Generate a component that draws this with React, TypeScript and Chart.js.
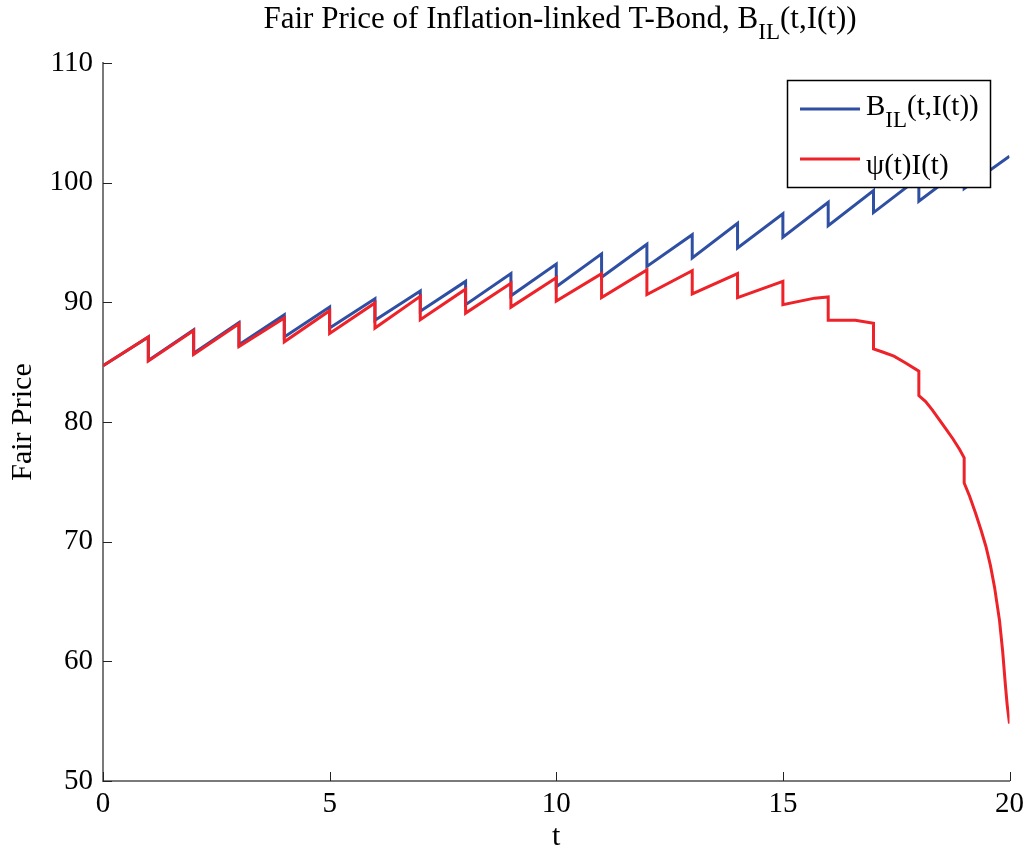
import React, { useEffect, useRef } from "react";
import { Chart, registerables } from "chart.js";
Chart.register(...registerables);

// ---- data ----
const blueT = [0, 1, 1, 2, 2, 3, 3, 4, 4, 5, 5, 6, 6, 7, 7, 8, 8, 9, 9, 10, 10, 11, 11, 12, 12, 13, 13, 14, 14, 15, 15, 16, 16, 17, 17, 18, 18, 19, 19, 20];
const blueY = [84.7, 87.1, 85.15, 87.7, 85.75, 88.3, 86.45, 88.95, 87.1, 89.6, 87.85, 90.3, 88.5, 90.95, 89.25, 91.75, 89.8, 92.4, 90.55, 93.2, 91.3, 94.05, 92.1, 94.85, 93.0, 95.65, 93.7, 96.6, 94.55, 97.4, 95.45, 98.35, 96.4, 99.35, 97.5, 100.4, 98.45, 101.3, 99.5, 102.2];

const redT = [0, 1, 1, 2, 2, 3, 3, 4, 4, 5, 5, 6, 6, 7, 7, 8, 8, 9, 9, 10, 10, 11, 11, 12, 12, 13, 13, 14, 14, 15, 15, 15.7, 16, 16, 16.6, 17, 17, 17.2, 17.45, 17.7, 18, 18, 18.15, 18.3, 18.45, 18.6, 18.75, 18.9, 19, 19, 19.12, 19.25, 19.37, 19.48, 19.58, 19.67, 19.78, 19.85, 19.91, 19.95, 20];
const redY = [84.7, 87.1, 85.1, 87.65, 85.65, 88.2, 86.3, 88.7, 86.7, 89.3, 87.4, 89.95, 87.85, 90.5, 88.55, 91.1, 89.1, 91.6, 89.6, 92.05, 90.1, 92.4, 90.4, 92.7, 90.65, 92.65, 90.7, 92.4, 90.4, 91.75, 89.8, 90.35, 90.45, 88.5, 88.5, 88.25, 86.1, 85.85, 85.5, 84.95, 84.25, 82.2, 81.7, 81.0, 80.2, 79.4, 78.6, 77.7, 77.0, 74.9, 73.8, 72.4, 71.0, 69.6, 68.0, 66.2, 63.4, 60.8, 58.0, 56.3, 54.8];

const xTicks = [0, 5, 10, 15, 20];
const yTicks = [50, 60, 70, 80, 90, 100, 110];

const titleMain = "Fair Price of Inflation-linked T-Bond, B";
const titleSub = "IL";
const titleEnd = "(t,I(t))";
const blueLabel = ["B", "IL", "(t,I(t))"];
const redLabel = "ψ(t)I(t)";
const xTitle = "t";
const yTitle = "Fair Price";

const BLUE = "#2f4fa2";
const RED = "#ee2229";
const FONT = "'Liberation Serif', 'Times New Roman', serif";

type Part = { t: string; s: number; dy: number };

function drawParts(ctx: CanvasRenderingContext2D, parts: Part[], x: number, y: number, center: boolean) {
  ctx.save();
  ctx.fillStyle = "#000";
  ctx.textBaseline = "alphabetic";
  ctx.textAlign = "left";
  const widths = parts.map((p) => {
    ctx.font = `${p.s}px ${FONT}`;
    return ctx.measureText(p.t).width;
  });
  const total = widths.reduce((a, b) => a + b, 0);
  let cx = center ? x - total / 2 : x;
  parts.forEach((p, i) => {
    ctx.font = `${p.s}px ${FONT}`;
    ctx.fillText(p.t, cx, y + p.dy);
    cx += widths[i];
  });
  ctx.restore();
}

const decorPlugin = {
  id: "decor",
  afterDraw(chart: any) {
    const ctx: CanvasRenderingContext2D = chart.ctx;
    const xs = chart.scales.x;
    const ys = chart.scales.y;
    const area = chart.chartArea;
    // inward ticks
    ctx.save();
    ctx.strokeStyle = "#222";
    ctx.lineWidth = 1;
    ctx.beginPath();
    xTicks.forEach((v) => {
      const px = Math.round(xs.getPixelForValue(v)) + 0.5;
      ctx.moveTo(px, area.bottom);
      ctx.lineTo(px, area.bottom - 9);
    });
    yTicks.forEach((v) => {
      const py = Math.round(ys.getPixelForValue(v)) + 0.5;
      ctx.moveTo(area.left, py);
      ctx.lineTo(area.left + 9, py);
    });
    ctx.stroke();
    ctx.restore();

    // title
    drawParts(
      ctx,
      [
        { t: titleMain, s: 31, dy: 0 },
        { t: titleSub, s: 23, dy: 11 },
        { t: titleEnd, s: 31, dy: 0 },
      ],
      560,
      28,
      true
    );

    // legend
    ctx.save();
    ctx.fillStyle = "#fff";
    ctx.fillRect(787, 80, 203, 107);
    ctx.strokeStyle = "#000";
    ctx.lineWidth = 1.5;
    ctx.strokeRect(787.5, 80.5, 203, 107);
    ctx.lineWidth = 3;
    ctx.strokeStyle = BLUE;
    ctx.beginPath();
    ctx.moveTo(800, 109);
    ctx.lineTo(860, 109);
    ctx.stroke();
    ctx.strokeStyle = RED;
    ctx.beginPath();
    ctx.moveTo(800, 159);
    ctx.lineTo(860, 159);
    ctx.stroke();
    ctx.restore();
    drawParts(
      ctx,
      [
        { t: blueLabel[0], s: 29, dy: 0 },
        { t: blueLabel[1], s: 23, dy: 12 },
        { t: blueLabel[2], s: 29, dy: 0 },
      ],
      866,
      115,
      false
    );
    drawParts(ctx, [{ t: redLabel, s: 29, dy: 0 }], 866, 174, false);
  },
};

export default function App() {
  const ref = useRef<HTMLCanvasElement | null>(null);
  useEffect(() => {
    if (!ref.current) return;
    const chart = new Chart(ref.current, {
      type: "line",
      data: {
        datasets: [
          {
            label: "B_IL(t,I(t))",
            data: blueT.map((t, i) => ({ x: t, y: blueY[i] })),
            borderColor: BLUE,
            backgroundColor: BLUE,
            borderWidth: 3,
            pointRadius: 0,
            tension: 0,
            order: 1,
          },
          {
            label: redLabel,
            data: redT.map((t, i) => ({ x: t, y: redY[i] })),
            borderColor: RED,
            backgroundColor: RED,
            borderWidth: 3,
            pointRadius: 0,
            tension: 0,
            order: 0,
          },
        ],
      },
      options: {
        animation: false,
        responsive: false,
        devicePixelRatio: 1,
        layout: { padding: { top: 63, right: 20, left: 0, bottom: 0 } },
        plugins: {
          legend: { display: false },
          title: { display: false },
          tooltip: { enabled: false },
        },
        scales: {
          x: {
            type: "linear",
            min: 0,
            max: 20,
            afterFit: (s: any) => {
              s.height = 71;
            },
            afterBuildTicks: (s: any) => {
              s.ticks = xTicks.map((v) => ({ value: v }));
            },
            grid: { display: true, drawOnChartArea: false, drawTicks: false },
            border: { display: true, color: "#7a7a7a", width: 2 },
            ticks: {
              color: "#000",
              padding: 6,
              maxRotation: 0,
              font: { family: FONT, size: 29 },
            },
            title: {
              display: true,
              text: xTitle,
              color: "#000",
              font: { family: FONT, size: 30, lineHeight: 1 },
              padding: { top: 0, bottom: 0 },
            },
          },
          y: {
            type: "linear",
            min: 50,
            max: 110,
            afterFit: (s: any) => {
              s.width = 103;
            },
            afterBuildTicks: (s: any) => {
              s.ticks = yTicks.map((v) => ({ value: v }));
            },
            grid: { display: true, drawOnChartArea: false, drawTicks: false },
            border: { display: true, color: "#7a7a7a", width: 2 },
            ticks: {
              color: "#000",
              padding: 10,
              font: { family: FONT, size: 29 },
            },
            title: {
              display: true,
              text: yTitle,
              color: "#000",
              font: { family: FONT, size: 30, lineHeight: 1 },
              padding: { top: 8, bottom: 0 },
            },
          },
        },
      },
      plugins: [decorPlugin],
    });
    return () => chart.destroy();
  }, []);
  return (
    <div style={{ position: "fixed", left: 0, top: 0, width: 1030, height: 852, background: "#fff" }}>
      <canvas ref={ref} width={1030} height={852} style={{ display: "block", width: 1030, height: 852 }} />
    </div>
  );
}
